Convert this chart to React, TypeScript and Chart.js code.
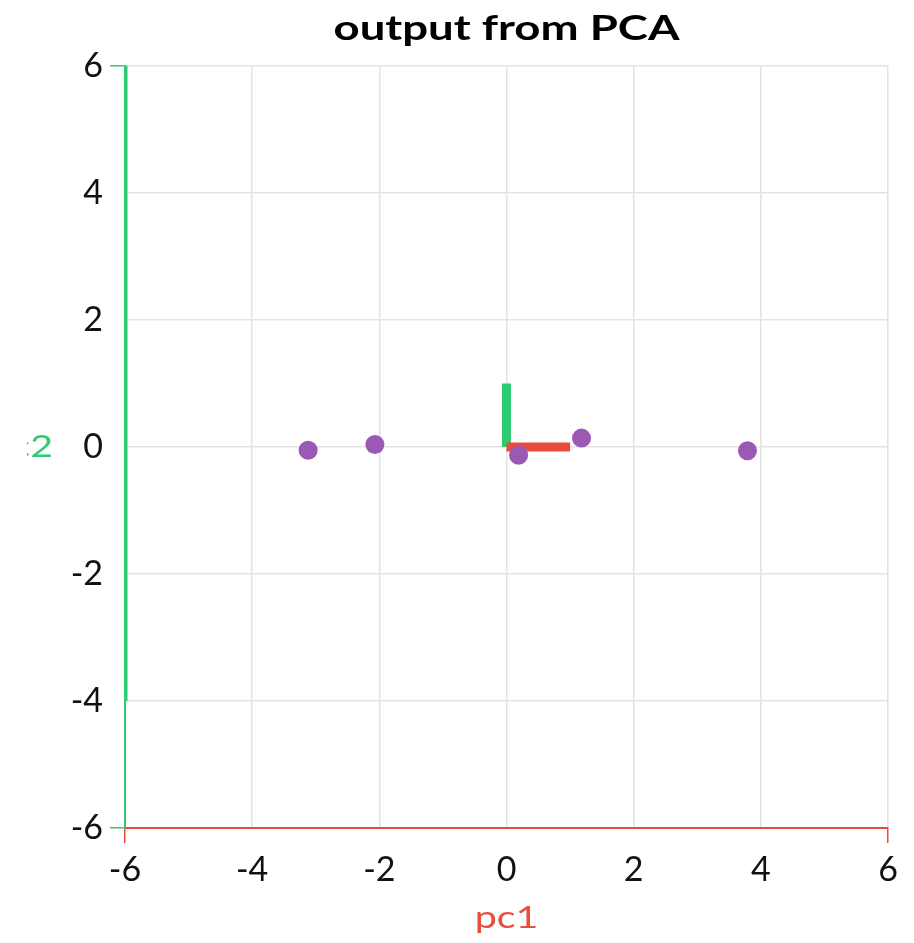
import React, { useEffect, useRef } from "react";
import { Chart, registerables } from "chart.js";

Chart.register(...registerables);

const titleText = "output from PCA";
const xAxisTitle = "pc1";
const yAxisTitle = "pc2";
const axisMin = -6;
const axisMax = 6;
const axisStep = 2;

// projected samples
const pointsX = [-3.12, -2.07, 0.19, 1.18, 3.79];
const pointsY = [-0.05, 0.04, -0.13, 0.14, -0.06];

// principal component direction segments
const pc1X = [0, 1];
const pc1Y = [0, 0];
const pc2X = [0, 0];
const pc2Y = [0, 1];

// green axis bar on the left
const barX = [-6, -6];
const barY = [-4, 6];

const RED = "#e74c3c";
const GREEN = "#2ecc71";
const PURPLE = "#9b59b6";
const GRID = "#e3e3e3";

const toXY = (xs: number[], ys: number[]) => xs.map((x, i) => ({ x, y: ys[i] }));

function stretchedText(
  ctx: CanvasRenderingContext2D,
  text: string,
  x: number,
  y: number,
  font: string,
  color: string,
  align: CanvasTextAlign,
  sx: number
) {
  ctx.save();
  ctx.font = font;
  ctx.fillStyle = color;
  ctx.textAlign = align;
  ctx.textBaseline = "middle";
  ctx.translate(x, y);
  ctx.scale(sx, 1);
  ctx.fillText(text, 0, 0);
  ctx.restore();
}

const textPlugin = {
  id: "textPlugin",
  afterDraw(chart: any) {
    const ctx = chart.ctx;
    const area = chart.chartArea;
    stretchedText(ctx, titleText, (area.left + area.right) / 2, 29, "bold 35px Lato", "#000", "center", 1.3);

    const xScale = chart.scales.x;
    stretchedText(ctx, xAxisTitle, xScale.getPixelForValue(0), 918, "31px Lato", RED, "center", 1.27);

    const yScale = chart.scales.y;
    const yc = yScale.getPixelForValue(0);
    ctx.save();
    ctx.beginPath();
    ctx.rect(27, 0, 60, chart.height);
    ctx.clip();
    stretchedText(ctx, yAxisTitle, 53, yc, "31px Lato", GREEN, "right", 1.27);
    ctx.restore();
  },
};

export default function App() {
  const ref = useRef<HTMLCanvasElement>(null);
  useEffect(() => {
    document.body.style.margin = "0";
    const edgeTick = (color: string) => (c: any) => {
      const n = c.scale.ticks.length;
      return c.index === 0 || c.index === n - 1 ? color : "transparent";
    };
    const chart = new Chart(ref.current!, {
      type: "scatter",
      data: {
        datasets: [
          {
            label: "samples",
            data: toXY(pointsX, pointsY),
            backgroundColor: PURPLE,
            borderColor: PURPLE,
            pointRadius: 9.5,
            pointBorderWidth: 0,
            showLine: false,
            order: 0,
          },
          {
            label: "pc1",
            data: toXY(pc1X, pc1Y),
            borderColor: RED,
            backgroundColor: RED,
            borderWidth: 9,
            pointRadius: 0,
            showLine: true,
            borderCapStyle: "butt",
            order: 1,
          },
          {
            label: "pc2",
            data: toXY(pc2X, pc2Y),
            borderColor: GREEN,
            backgroundColor: GREEN,
            borderWidth: 9,
            pointRadius: 0,
            showLine: true,
            borderCapStyle: "butt",
            order: 2,
          },
          {
            label: "bar",
            data: toXY(barX, barY),
            borderColor: GREEN,
            backgroundColor: GREEN,
            borderWidth: 5,
            pointRadius: 0,
            showLine: true,
            borderCapStyle: "butt",
            order: 3,
          },
        ],
      },
      options: {
        animation: false,
        responsive: false,
        maintainAspectRatio: false,
        layout: { padding: { top: 66, right: 26, left: 0, bottom: 0 } },
        plugins: {
          legend: { display: false },
          title: { display: false },
          tooltip: { enabled: false },
        },
        scales: {
          x: {
            type: "linear",
            min: axisMin,
            max: axisMax,
            ticks: {
              stepSize: axisStep,
              color: "#111",
              font: { family: "Lato", size: 34 },
              padding: 7,
            },
            grid: {
              color: GRID,
              lineWidth: 1.5,
              tickLength: 15,
              tickColor: edgeTick(RED),
            },
            border: { color: RED, width: 2 },
            afterFit: (s: any) => {
              s.height = 115;
            },
          },
          y: {
            type: "linear",
            min: axisMin,
            max: axisMax,
            ticks: {
              stepSize: axisStep,
              color: "#111",
              font: { family: "Lato", size: 34 },
              padding: 7,
            },
            grid: {
              color: GRID,
              lineWidth: 1.5,
              tickLength: 15,
              tickColor: edgeTick(GREEN),
            },
            border: { color: GREEN, width: 2 },
            afterFit: (s: any) => {
              s.width = 125;
            },
          },
        },
      },
      plugins: [textPlugin],
    } as any);
    return () => chart.destroy();
  }, []);
  return (
    <div style={{ width: 914, height: 943 }}>
      <canvas ref={ref} width={914} height={943} style={{ display: "block" }} />
    </div>
  );
}
